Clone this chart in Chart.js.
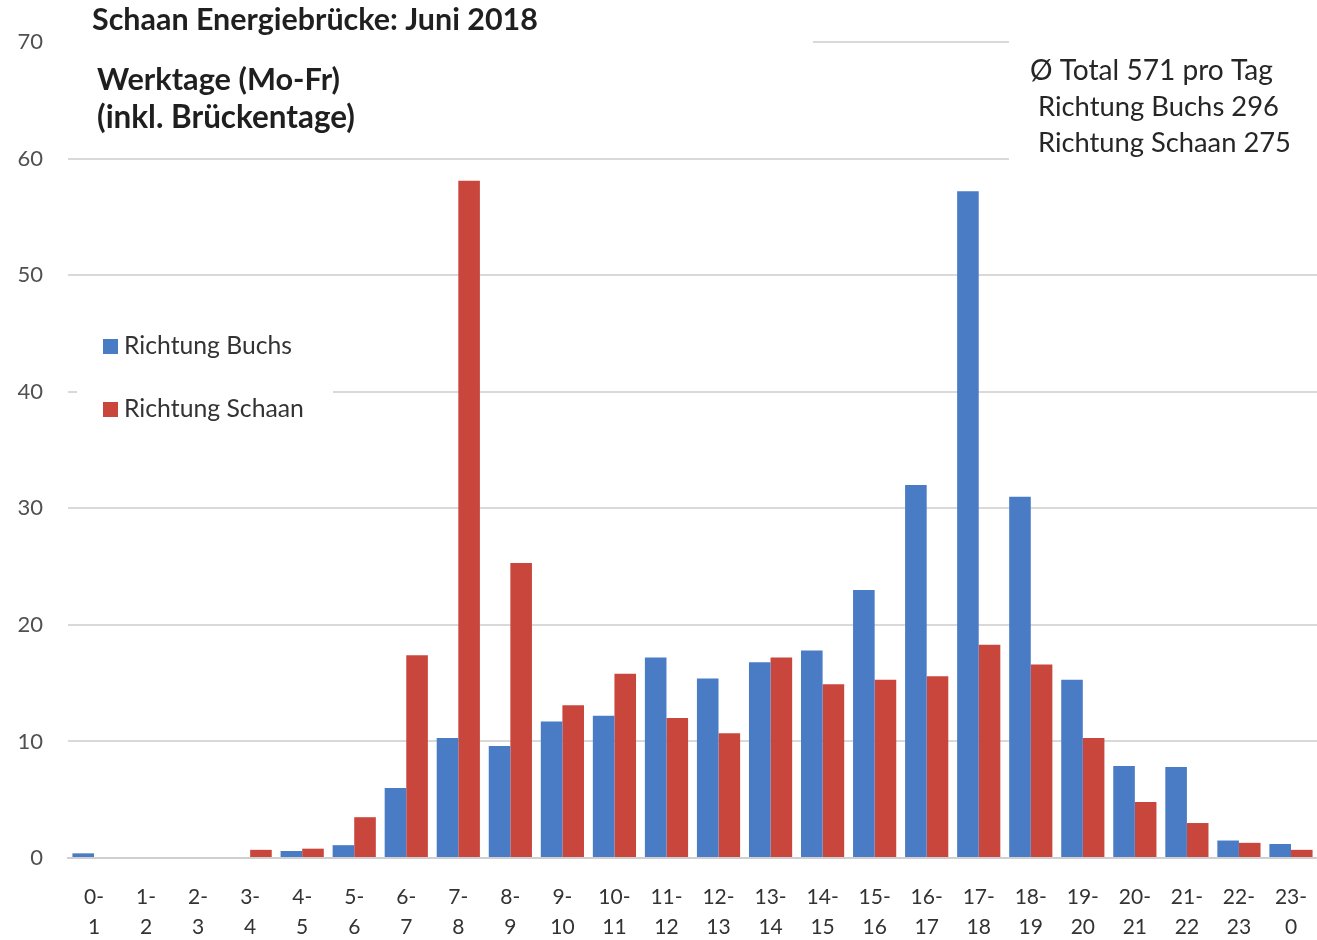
<!DOCTYPE html>
<html>
<head>
<meta charset="utf-8">
<script src="https://cdn.jsdelivr.net/npm/chart.js@4/dist/chart.umd.min.js"></script>
<style>
  html, body { margin: 0; padding: 0; background: #ffffff; }
  #wrap { width: 1317px; height: 940px; position: relative; }
</style>
</head>
<body>
<div id="wrap"><canvas id="c" width="1317" height="940"></canvas></div>
<script>
// ---- Data ----
const hourLabels = [
  ["0-","1"],["1-","2"],["2-","3"],["3-","4"],["4-","5"],["5-","6"],
  ["6-","7"],["7-","8"],["8-","9"],["9-","10"],["10-","11"],["11-","12"],
  ["12-","13"],["13-","14"],["14-","15"],["15-","16"],["16-","17"],["17-","18"],
  ["18-","19"],["19-","20"],["20-","21"],["21-","22"],["22-","23"],["23-","0"]
];
const richtungBuchs = [0.4, 0, 0, 0, 0.6, 1.1, 6.0, 10.3, 9.6, 11.7, 12.2, 17.2,
                       15.4, 16.8, 17.8, 23.0, 32.0, 57.2, 31.0, 15.3, 7.9, 7.8, 1.5, 1.2];
const richtungSchaan = [0, 0, 0, 0.7, 0.8, 3.5, 17.4, 58.1, 25.3, 13.1, 15.8, 12.0,
                        10.7, 17.2, 14.9, 15.3, 15.6, 18.3, 16.6, 10.3, 4.8, 3.0, 1.3, 0.7];
const yMin = 0, yMax = 70, yStep = 10;
const seriesNames = ["Richtung Buchs", "Richtung Schaan"];
const titleText = "Schaan Energiebrücke: Juni 2018";
const subtitleLines = ["Werktage (Mo-Fr)", "(inkl. Brückentage)"];
const summaryLines = ["Ø Total 571 pro Tag", "Richtung Buchs 296", "Richtung Schaan 275"];

// ---- Styles ----
const FONT = "Lato, 'Open Sans', sans-serif";
const BLUE = "#4A7CC5";
const RED = "#C9463D";
const GRID = "#d9d9d9";

function fitFont(ctx, text, weight, targetWidth) {
  const base = 24;
  ctx.font = `${weight} ${base}px ${FONT}`;
  const w = ctx.measureText(text).width;
  const size = base * targetWidth / w;
  ctx.font = `${weight} ${size.toFixed(2)}px ${FONT}`;
}

const overlayPlugin = {
  id: 'overlay',
  beforeDatasetsDraw(chart) {
    const ctx = chart.ctx;
    const y = chart.scales.y;
    const area = chart.chartArea;
    ctx.save();
    ctx.fillStyle = '#ffffff';
    const y70 = y.getPixelForValue(70);
    const y60 = y.getPixelForValue(60);
    const y40 = y.getPixelForValue(40);
    // text boxes hiding gridlines
    ctx.fillRect(area.left - 1, y70 - 4, 813 - area.left + 1, 8);
    ctx.fillRect(1009, y70 - 4, area.right - 1009 + 2, 8);
    ctx.fillRect(1009, y60 - 4, area.right - 1009 + 2, 8);
    ctx.fillRect(77, y40 - 4, 333 - 77, 8);
    ctx.restore();
  },
  afterDraw(chart) {
    const ctx = chart.ctx;
    ctx.save();
    ctx.textBaseline = 'alphabetic';
    ctx.textAlign = 'left';
    ctx.fillStyle = '#1f1f1f';
    // title
    fitFont(ctx, titleText, 'bold', 446);
    ctx.fillText(titleText, 92, 30);
    // subtitle
    fitFont(ctx, subtitleLines[0], 'bold', 243);
    ctx.fillText(subtitleLines[0], 97, 90);
    fitFont(ctx, subtitleLines[1], 'bold', 258);
    ctx.fillText(subtitleLines[1], 97, 128);
    // summary
    ctx.fillStyle = '#262626';
    fitFont(ctx, summaryLines[0], 'normal', 243);
    ctx.fillText(summaryLines[0], 1030, 80);
    fitFont(ctx, summaryLines[1], 'normal', 241);
    ctx.fillText(summaryLines[1], 1038, 116);
    fitFont(ctx, summaryLines[2], 'normal', 253);
    ctx.fillText(summaryLines[2], 1038, 152);
    // legend
    const legendY = [347, 410];
    const colors = [BLUE, RED];
    for (let i = 0; i < 2; i++) {
      ctx.fillStyle = colors[i];
      ctx.fillRect(103, legendY[i] - 8, 15, 15);
      ctx.fillStyle = '#333333';
      fitFont(ctx, seriesNames[i], 'normal', i === 0 ? 168 : 180);
      ctx.fillText(seriesNames[i], 124, legendY[i] + 7);
    }
    ctx.restore();
  }
};

new Chart(document.getElementById('c'), {
  type: 'bar',
  data: {
    labels: hourLabels,
    datasets: [
      { label: seriesNames[0], data: richtungBuchs, backgroundColor: BLUE,
        barPercentage: 1.0, categoryPercentage: 0.83 },
      { label: seriesNames[1], data: richtungSchaan, backgroundColor: RED,
        barPercentage: 1.0, categoryPercentage: 0.83 }
    ]
  },
  options: {
    responsive: false,
    animation: false,
    devicePixelRatio: 1,
    layout: { padding: { top: 42, left: 0, right: 0, bottom: 0 } },
    plugins: {
      legend: { display: false },
      title: { display: false },
      tooltip: { enabled: false }
    },
    scales: {
      x: {
        grid: { display: false, drawTicks: false },
        border: { display: true, color: '#cfcfcf', width: 2 },
        ticks: {
          color: '#333333',
          font: { family: FONT, size: 21, lineHeight: 1.4 },
          padding: 25,
          maxRotation: 0,
          autoSkip: false
        },
        afterFit(scale) {
          scale.height = 82;
          scale.paddingLeft = 0;
          scale.paddingRight = 0;
        }
      },
      y: {
        min: yMin, max: yMax,
        grid: { color: GRID, lineWidth: 2, drawTicks: false },
        border: { display: false },
        ticks: {
          stepSize: yStep,
          color: '#505050',
          font: { family: FONT, size: 22 },
          padding: 25
        },
        afterFit(scale) {
          scale.width = 68;
          scale.paddingTop = 0;
          scale.paddingBottom = 0;
        }
      }
    }
  },
  plugins: [overlayPlugin]
});
</script>
</body>
</html>
